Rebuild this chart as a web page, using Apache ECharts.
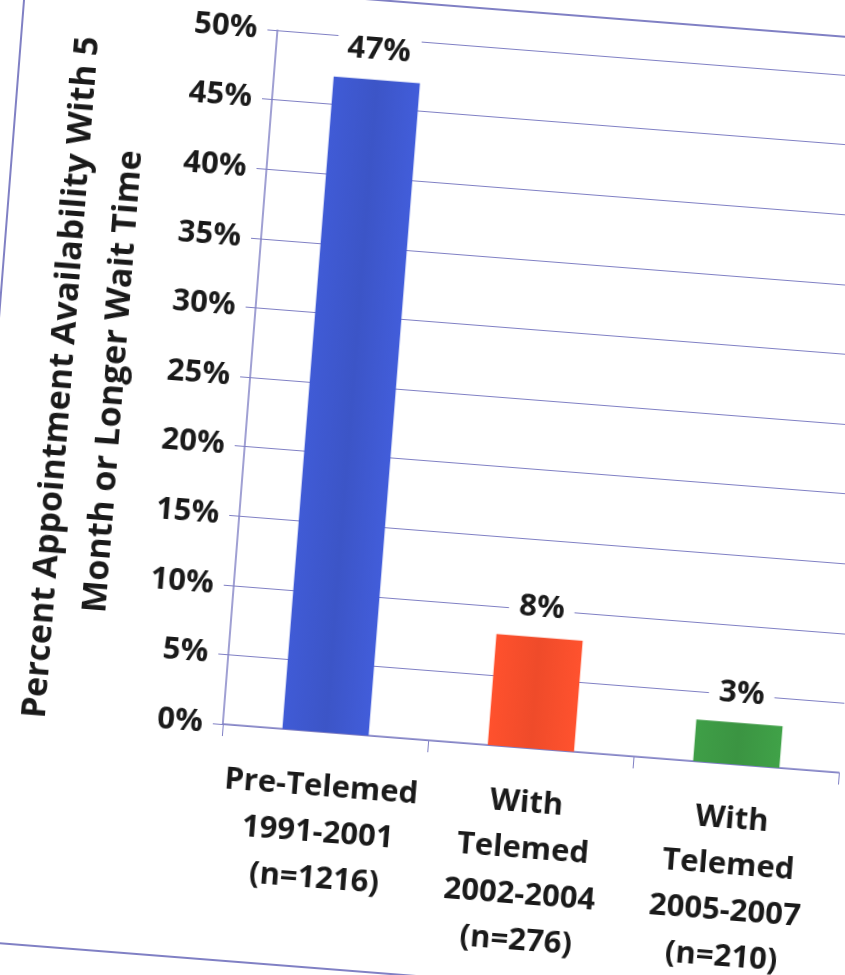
<!DOCTYPE html>
<html>
<head>
<meta charset="utf-8">
<script src="https://cdn.jsdelivr.net/npm/echarts@6/dist/echarts.min.js"></script>
<style>
  html, body { margin: 0; padding: 0; background: #fff; overflow: hidden; width: 845px; height: 975px; }
  /* the slide was photographed a little tilted */
  #chart { position: absolute; left: -40px; top: -20px; width: 925px; height: 1015px; transform: rotate(4.5deg); transform-origin: 50% 50%; }
</style>
</head>
<body>
<div id="chart"></div>
<script>
var categories = [
  'Pre-Telemed\n1991-2001\n(n=1216)',
  'With\nTelemed\n2002-2004\n(n=276)',
  'With\nTelemed\n2005-2007\n(n=210)'
]
var values = [47, 8, 3]
var barColors = ['#3c55c7', '#ef4b2a', '#3b9442']
var yMin = 0
var yMax = 50
var yStep = 5
var yTitle = 'Percent Appointment Availability With 5\nMonth or Longer Wait Time'

var lineColor = '#8080c4'
var textColor = '#1a1a1a'
var fontFamily = '"Open Sans", "DejaVu Sans", sans-serif'

var chart = echarts.init(document.getElementById('chart'))

var barData = values.map(function (v, i) {
  return {
    value: v,
    itemStyle: {
      color: new echarts.graphic.LinearGradient(0, 0, 1, 0, [
        { offset: 0, color: echarts.color.lift(barColors[i], -0.08) },
        { offset: 0.5, color: barColors[i] },
        { offset: 1, color: echarts.color.lift(barColors[i], -0.1) }
      ])
    }
  }
})

chart.setOption({
  animation: false,
  backgroundColor: '#fff',
  textStyle: { fontFamily: fontFamily },
  graphic: [
    {
      type: 'rect',
      z: -1,
      shape: { x: 27, y: 25, width: 940, height: 970 },
      style: { fill: 'none', stroke: lineColor, lineWidth: 2 }
    }
  ],
  grid: { left: 282, top: 63, right: 25, bottom: 256 },
  xAxis: {
    type: 'category',
    data: categories,
    axisLine: { lineStyle: { color: lineColor, width: 1.5 } },
    axisTick: { show: true, length: 12, lineStyle: { color: lineColor } },
    axisLabel: {
      color: textColor,
      fontSize: 31,
      fontWeight: 'bold',
      lineHeight: 46,
      margin: 32,
      interval: 0
    }
  },
  yAxis: {
    type: 'value',
    min: yMin,
    max: yMax,
    interval: yStep,
    name: yTitle,
    nameLocation: 'middle',
    nameGap: 110,
    nameRotate: 90,
    nameTextStyle: {
      color: textColor,
      fontSize: 34,
      fontWeight: 'bold',
      lineHeight: 52,
      padding: [0, 30, 0, 0]
    },
    axisLine: { show: true, lineStyle: { color: lineColor, width: 1.5 } },
    axisTick: { show: true, length: 10, lineStyle: { color: lineColor } },
    axisLabel: {
      color: textColor,
      fontSize: 31,
      fontWeight: 'bold',
      margin: 20,
      formatter: '{value}%'
    },
    splitLine: { lineStyle: { color: lineColor, width: 1.2 } }
  },
  series: [
    {
      type: 'bar',
      data: barData,
      barWidth: '42%',
      label: {
        show: true,
        position: 'top',
        distance: 14,
        formatter: '{c}%',
        color: textColor,
        fontSize: 31,
        fontWeight: 'bold',
        backgroundColor: '#fff',
        padding: [0, 10]
      }
    }
  ]
})
</script>
</body>
</html>
